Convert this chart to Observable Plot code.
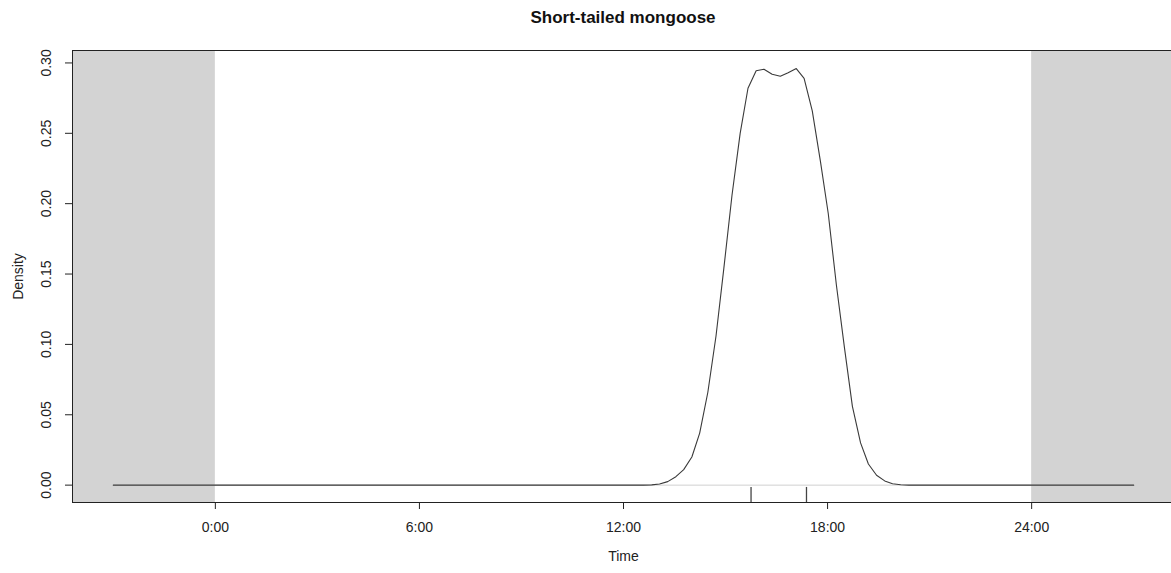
<!DOCTYPE html>
<html>
<head>
<meta charset="utf-8">
<script src="https://cdn.jsdelivr.net/npm/d3@7"></script>
<script src="https://cdn.jsdelivr.net/npm/@observablehq/plot@0.6"></script>
<style>
  body { margin: 0; background: #fff; font-family: "Liberation Sans", Arial, sans-serif; }
  #wrap { position: relative; width: 1171px; height: 573px; overflow: hidden; }
  #title { position: absolute; left: 0; top: 8px; width: 1246px; text-align: center;
           font-weight: bold; font-size: 17px; color: #111; }
  #wrap svg { position: absolute; left: 0; top: 0; }
</style>
</head>
<body>
<div id="wrap"><div id="title">Short-tailed mongoose</div></div>
<script>
// Kernel density of activity (clock hours, wrapped 3 h either side of the day)
const densityHours = [
  -3, 12.59, 12.83, 13.06, 13.30, 13.54, 13.77, 14.01, 14.24, 14.48, 14.72,
  14.95, 15.19, 15.43, 15.66, 15.90, 16.13, 16.37, 16.61, 16.84, 17.08,
  17.31, 17.55, 17.79, 18.02, 18.26, 18.50, 18.73, 18.97, 19.20, 19.44,
  19.68, 19.91, 20.15, 20.39, 27
];
const densityValues = [
  0, 0, 0.0002, 0.0008, 0.0025, 0.0060, 0.0110, 0.0200, 0.0370, 0.0660, 0.1060,
  0.1540, 0.2060, 0.2500, 0.2820, 0.2945, 0.2955, 0.2920, 0.2905, 0.2930, 0.2960,
  0.2890, 0.2660, 0.2300, 0.1930, 0.1420, 0.0970, 0.0560, 0.0300, 0.0150, 0.0070,
  0.0030, 0.0010, 0.0003, 0, 0
];
// Recorded detection times (rug)
const rugTimes = [15.75, 17.38];
// Day boundaries; outside them the curve is the wrapped extension
const dayStart = 0;
const dayEnd = 24;
const extendHours = 3;
// Axis ticks
const xTickHours = [0, 6, 12, 18, 24];
const xTickLabels = ["0:00", "6:00", "12:00", "18:00", "24:00"];
const yTicks = [0, 0.05, 0.10, 0.15, 0.20, 0.25, 0.30];

const curve = densityHours.map((h, i) => ({hour: h, density: densityValues[i]}));

// R-style 4% padding around the data range
const xMin = dayStart - extendHours, xMax = dayEnd + extendHours;
const xPad = (xMax - xMin) * 0.04;
const xDomain = [xMin - xPad, xMax + xPad];
const yMax = d3.max(densityValues);
const yPad = yMax * 0.04 + 0.0005;
const yDomain = [-yPad, yMax + yPad + 0.0005];

const night = [
  {start: xDomain[0], end: dayStart},
  {start: dayEnd, end: xDomain[1]}
];

const plot = Plot.plot({
  width: 1171,
  height: 573,
  marginLeft: 72,
  marginTop: 50,
  marginBottom: 71,
  marginRight: -3,
  style: {fontFamily: "'Liberation Sans', Arial, sans-serif", fontSize: "14px", color: "#222", background: "transparent"},
  x: {domain: xDomain},
  y: {domain: yDomain},
  marks: [
    Plot.rect(night, {x1: "start", x2: "end", y1: yDomain[0], y2: yDomain[1], fill: "#d3d3d3"}),
    Plot.ruleY([0], {x1: xMin, x2: xMax, stroke: "#d0d0d0", strokeWidth: 1}),
    Plot.line(curve, {x: "hour", y: "density", stroke: "#3a3a3a", strokeWidth: 1.1}),
    Plot.ruleX(rugTimes, {x: d => d, y1: yDomain[0], y2: yDomain[0] + 0.0107, stroke: "#444", strokeWidth: 1.3}),
    Plot.frame({stroke: "#222", strokeWidth: 1}),
    Plot.axisX({
      ticks: xTickHours,
      tickFormat: d => xTickLabels[xTickHours.indexOf(d)],
      tickSize: 7,
      tickPadding: 13,
      label: "Time",
      labelAnchor: "center",
      labelArrow: "none",
      labelOffset: 58
    }),
    Plot.axisY({
      ticks: yTicks,
      tickFormat: d3.format(".2f"),
      tickSize: 7,
      tickRotate: -90,
      tickPadding: 15,
      label: "Density",
      labelAnchor: "center",
      labelArrow: "none",
      labelOffset: 59
    })
  ]
});

document.getElementById("wrap").appendChild(plot);
</script>
</body>
</html>
